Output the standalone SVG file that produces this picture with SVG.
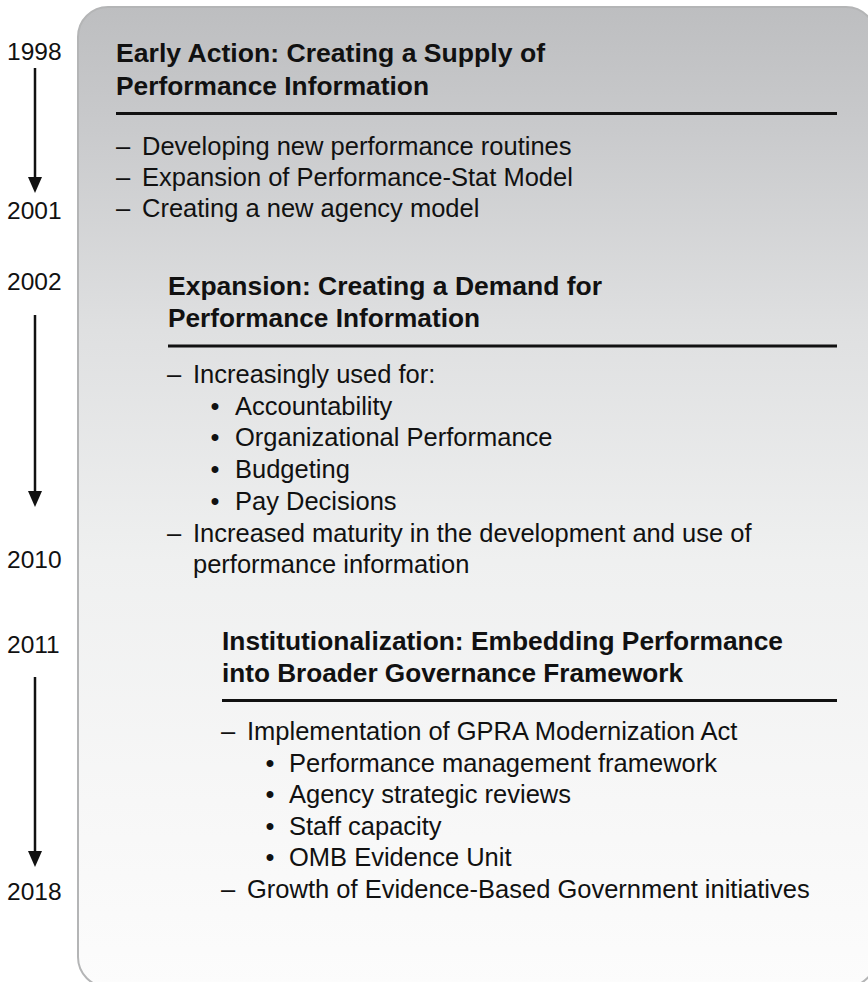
<svg xmlns="http://www.w3.org/2000/svg" width="868" height="982" viewBox="0 0 868 982">
  <defs>
    <linearGradient id="panelFill" x1="0" y1="0" x2="0" y2="1">
      <stop offset="0" stop-color="#bdbec0"/>
      <stop offset="0.125" stop-color="#c9cacc"/>
      <stop offset="0.33" stop-color="#dfe0e1"/>
      <stop offset="0.565" stop-color="#eff0f0"/>
      <stop offset="0.81" stop-color="#f7f7f7"/>
      <stop offset="1" stop-color="#fcfcfc"/>
    </linearGradient>
    <marker id="arrowHead" markerUnits="userSpaceOnUse" markerWidth="16" markerHeight="14"
            viewBox="0 0 16 14" refX="6" refY="7" orient="auto">
      <path d="M0,0 L16,7 L0,14 Z" fill="#111"/>
    </marker>
    <style>
      .year { font-family: "Liberation Sans", Arial, sans-serif; font-size: 24.5px; fill: #111; }
      .head { font-family: "Liberation Sans", Arial, sans-serif; font-size: 26px; font-weight: bold; fill: #111; }
      .body { font-family: "Liberation Sans", Arial, sans-serif; font-size: 25.5px; fill: #111; }
      .rule { stroke: #111; stroke-width: 3; }
      .timeline { stroke: #111; stroke-width: 2.5; fill: none; marker-end: url(#arrowHead); }
    </style>
  </defs>

  <!-- background panel -->
  <rect id="panel" x="78" y="7" width="798" height="980" rx="30" ry="30"
        fill="url(#panelFill)" stroke="#b4b5b6" stroke-width="2"/>

  <!-- year labels -->
  <g id="years">
    <text class="year" x="7" y="60">1998</text>
    <text class="year" x="7" y="219">2001</text>
    <text class="year" x="7" y="290">2002</text>
    <text class="year" x="7" y="568">2010</text>
    <text class="year" x="7" y="653">2011</text>
    <text class="year" x="7" y="900">2018</text>
  </g>

  <!-- timeline arrows -->
  <g id="connectors">
    <line class="timeline" x1="35" y1="68" x2="35" y2="183"/>
    <line class="timeline" x1="35" y1="315" x2="35" y2="497"/>
    <line class="timeline" x1="35" y1="677" x2="35" y2="857"/>
  </g>

  <!-- phase 1 -->
  <g id="phase-early-action">
    <text class="head" x="116" y="62" textLength="429" lengthAdjust="spacingAndGlyphs">Early Action: Creating a Supply of</text>
    <text class="head" x="116" y="95" textLength="313" lengthAdjust="spacingAndGlyphs">Performance Information</text>
    <line class="rule" x1="116" y1="113.5" x2="837" y2="113.5"/>
    <text class="body" y="155"><tspan x="116">–</tspan><tspan x="142">Developing new performance routines</tspan></text>
    <text class="body" y="186"><tspan x="116">–</tspan><tspan x="142">Expansion of Performance-Stat Model</tspan></text>
    <text class="body" y="217"><tspan x="116">–</tspan><tspan x="142">Creating a new agency model</tspan></text>
  </g>

  <!-- phase 2 -->
  <g id="phase-expansion">
    <text class="head" x="168" y="295" textLength="434" lengthAdjust="spacingAndGlyphs">Expansion: Creating a Demand for</text>
    <text class="head" x="168" y="327" textLength="312" lengthAdjust="spacingAndGlyphs">Performance Information</text>
    <line class="rule" x1="168" y1="346" x2="837" y2="346"/>
    <text class="body" y="383"><tspan x="167">–</tspan><tspan x="193">Increasingly used for:</tspan></text>
    <text class="body" y="415"><tspan x="210.5">•</tspan><tspan x="235">Accountability</tspan></text>
    <text class="body" y="446"><tspan x="210.5">•</tspan><tspan x="235">Organizational Performance</tspan></text>
    <text class="body" y="478"><tspan x="210.5">•</tspan><tspan x="235">Budgeting</tspan></text>
    <text class="body" y="510"><tspan x="210.5">•</tspan><tspan x="235">Pay Decisions</tspan></text>
    <text class="body" y="542"><tspan x="167">–</tspan><tspan x="193">Increased maturity in the development and use of</tspan></text>
    <text class="body" x="193" y="573">performance information</text>
  </g>

  <!-- phase 3 -->
  <g id="phase-institutionalization">
    <text class="head" x="222" y="650" textLength="561" lengthAdjust="spacingAndGlyphs">Institutionalization: Embedding Performance</text>
    <text class="head" x="222" y="682" textLength="461" lengthAdjust="spacingAndGlyphs">into Broader Governance Framework</text>
    <line class="rule" x1="222" y1="700.5" x2="837" y2="700.5"/>
    <text class="body" y="740"><tspan x="221">–</tspan><tspan x="247">Implementation of GPRA Modernization Act</tspan></text>
    <text class="body" y="771.5"><tspan x="265.5">•</tspan><tspan x="289">Performance management framework</tspan></text>
    <text class="body" y="803"><tspan x="265.5">•</tspan><tspan x="289">Agency strategic reviews</tspan></text>
    <text class="body" y="834.5"><tspan x="265.5">•</tspan><tspan x="289">Staff capacity</tspan></text>
    <text class="body" y="866"><tspan x="265.5">•</tspan><tspan x="289">OMB Evidence Unit</tspan></text>
    <text class="body" y="897.5"><tspan x="221">–</tspan><tspan x="247">Growth of Evidence-Based Government initiatives</tspan></text>
  </g>
</svg>
